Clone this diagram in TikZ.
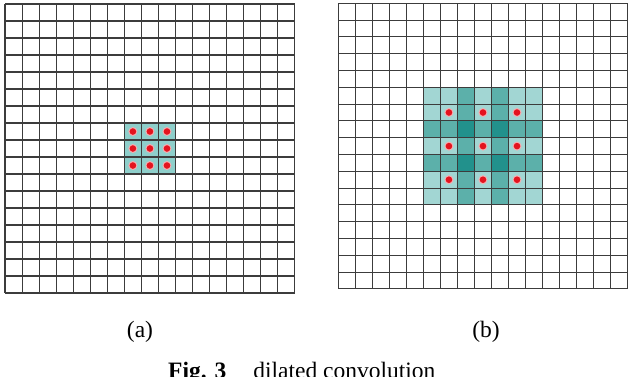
\documentclass[tikz,border=0pt]{standalone}
\usepackage{fontspec}
\setmainfont{Liberation Serif}
\definecolor{gridline}{HTML}{3C3C3C}
\definecolor{tealA}{HTML}{8ECFCB}
\definecolor{tealL}{HTML}{A2D6D3}
\definecolor{tealM}{HTML}{5CB0AA}
\definecolor{tealD}{HTML}{22918C}
\definecolor{dotred}{HTML}{E3141E}
\tikzset{
  gridln/.style={draw=gridline, line width=1.05bp},
  halo/.style={fill=dotred!35, draw=none},
  reddot/.style={fill=dotred, draw=none},
  lbl/.style={font=\fontsize{23.5bp}{28bp}\selectfont, inner sep=0pt, anchor=base}
}
\begin{document}
\begin{tikzpicture}[x=1bp,y=-1bp]
\useasboundingbox (0,0) rectangle (630,376);
\clip (0,0) rectangle (630,376);
\fill[white] (0,0) rectangle (630,376);

% ---------- grid (a)
\begin{scope}[xshift=5bp, yshift=-4bp, x=17.05bp, y=-17bp]
  \fill[tealA] (7,7) rectangle (10,10);
  \foreach \i in {0,...,17} {
    \draw[gridln] (\i,0) -- (\i,17);
    \draw[gridln] (0,\i) -- (17,\i);
  }
  \foreach \i in {7.5,8.5,9.5} \foreach \j in {7.5,8.5,9.5} {
    \fill[halo] (\i,\j) circle[radius=4.5bp];
    \fill[reddot] (\i,\j) circle[radius=3.3bp];
  }
\end{scope}

% ---------- grid (b)
\begin{scope}[xshift=338.3bp, yshift=-3.3bp, x=17.02bp, y=-16.8bp]
  \fill[tealL] (5,5) rectangle (12,12);
  \fill[tealM] (7,5) rectangle (8,12);
  \fill[tealM] (9,5) rectangle (10,12);
  \fill[tealM] (5,7) rectangle (12,8);
  \fill[tealM] (5,9) rectangle (12,10);
  \foreach \i in {7,9} \foreach \j in {7,9} {
    \fill[tealD] (\i,\j) rectangle ++(1,1);
  }
  \foreach \i in {0,...,17} {
    \draw[gridln] (\i,0) -- (\i,17);
    \draw[gridln] (0,\i) -- (17,\i);
  }
  \foreach \i in {6.5,8.5,10.5} \foreach \j in {6.5,8.5,10.5} {
    \fill[halo] (\i,\j) circle[radius=4.5bp];
    \fill[reddot] (\i,\j) circle[radius=3.3bp];
  }
\end{scope}

% ---------- labels
\node[lbl] (la) at (140,337.5) {(a)};
\node[lbl] (lb) at (486,337.5) {(b)};
\node[lbl, anchor=base west] (cap) at (168,378.5) {\textbf{Fig. 3}\hspace{27bp}dilated convolution};
\end{tikzpicture}
\end{document}
